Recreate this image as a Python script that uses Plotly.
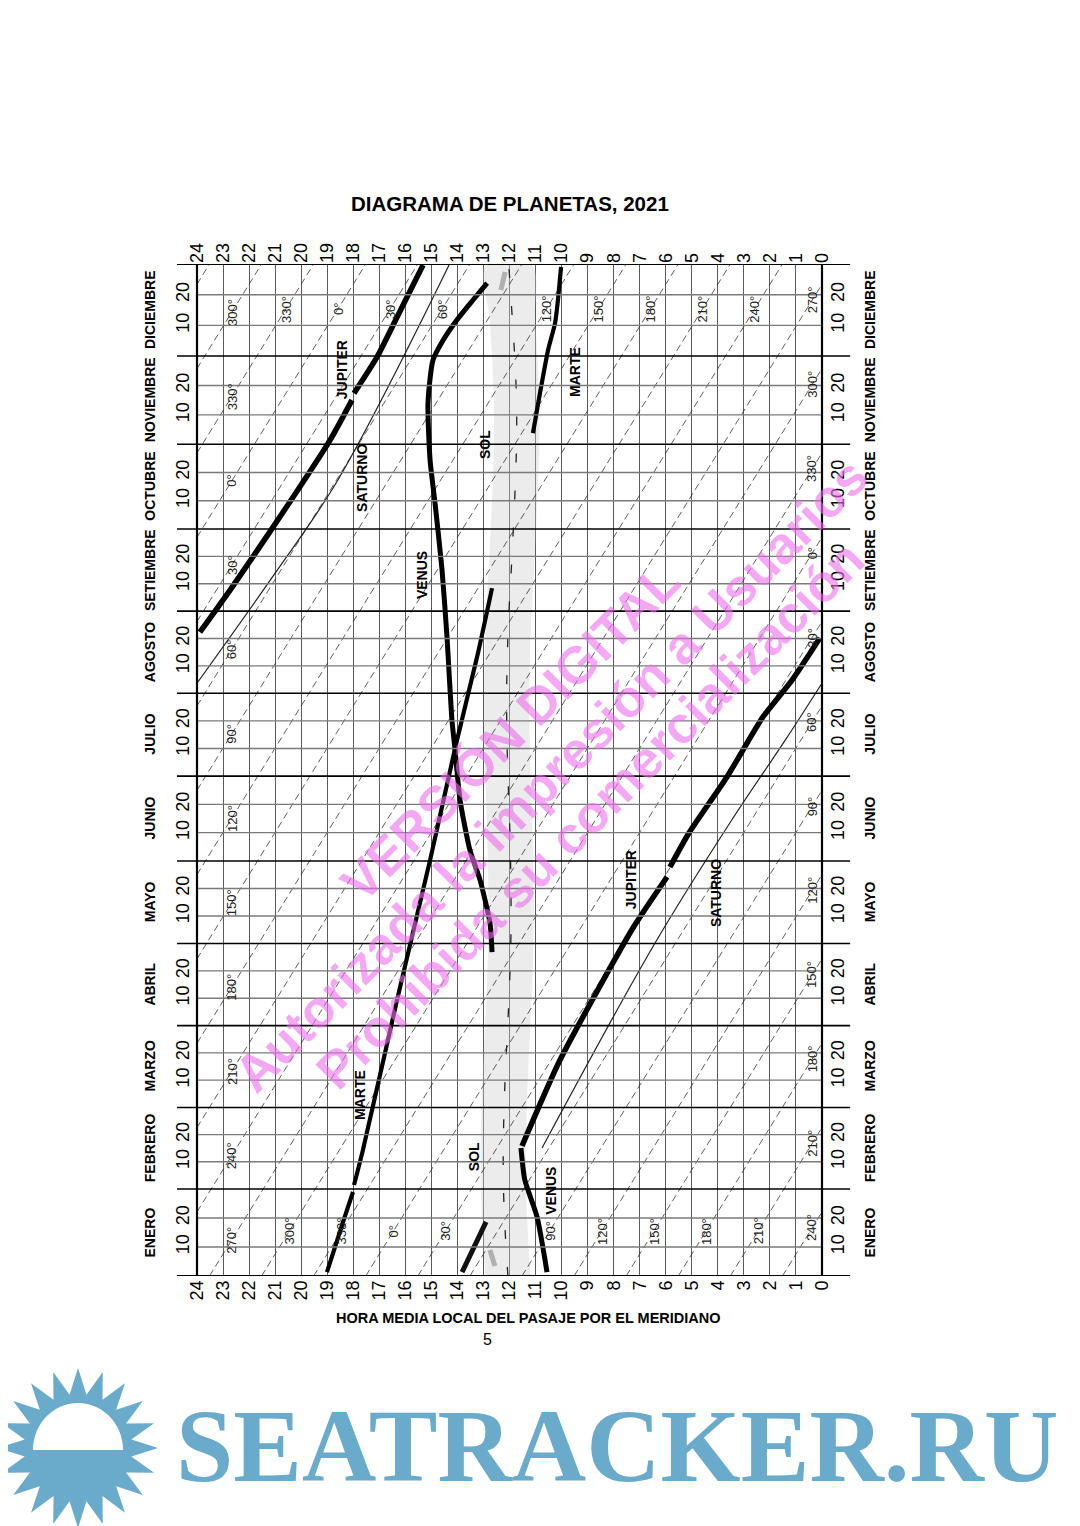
import math
import plotly.graph_objects as go

# x: hour of meridian passage (local mean time), y: position in the year in days from 1 January
HOURS = list(range(25))
MONTHS = ["ENERO", "FEBRERO", "MARZO", "ABRIL", "MAYO", "JUNIO", "JULIO",
          "AGOSTO", "SETIEMBRE", "OCTUBRE", "NOVIEMBRE", "DICIEMBRE"]
MONTH_START = [0, 31.4, 60.8, 90.3, 119.9, 149.7, 180.3, 210.2, 239.8, 269.4, 300.0, 331.8, 365.0]

# planets (None = break in the line)
JUP_EVE_H = [23.89, 22.73, 21.08, 18.89, 18.05, None, 17.97, 17.09, 16.32, 15.32]
JUP_EVE_D = [232.2, 247.4, 270.1, 301.5, 315.9, None, 318.4, 331.4, 345.8, 364.6]
JUP_MORN_H = [0.08, 1.15, 2.27, 3.65, 5.11, 5.84, None, 5.95, 7.26, 10.06, 11.52]
JUP_MORN_D = [230.1, 214.9, 201.6, 180.0, 159.8, 147.5, None, 143.9, 125.5, 77.9, 46.9]

VEN_H = [10.56, 10.94, 11.41, 11.56, None,
         12.67, 12.75, 13.13, 13.52, 13.90, 14.09, 14.21, 14.40, 14.59, 14.86,
         15.05, 15.13, 14.94, 14.55, 14.02, 13.40, 12.86]
VEN_D = [1.4, 21.3, 34.6, 46.2, None,
         116.8, 127.3, 142.8, 153.6, 171.7, 189.7, 200.5, 230.4, 254.6, 278.8,
         294.3, 314.8, 330.3, 337.5, 344.8, 352.0, 358.1]

MAR_H = [19.01, 18.39, 18.01, None, 17.97, 17.63, 16.32, 15.05, 14.06, 13.21, 12.67, None,
         11.10, 10.83, 10.52, 10.25, 10.14, 10.02]
MAR_D = [1.4, 19.5, 30.3, None, 32.8, 45.4, 99.5, 150.0, 191.5, 224.7, 248.1, None,
         304.0, 318.4, 333.9, 343.7, 352.0, 363.9]

SAT_H = [10.75, 6.41, 3.49, 1.38, 0.0, None, 24.0, 21.0, 18.59, 14.32]
SAT_D = [46.2, 120.1, 164.1, 193.7, 213.8, None, 213.8, 253.5, 287.1, 364.6]

# sun: meridian passage through the year
SUN_D = [0, 15, 31, 45, 60, 75, 90, 105, 120, 135, 150, 165, 180, 195, 210, 225,
         240, 255, 270, 285, 300, 315, 330, 345, 365]
SUN_H = [12.06, 12.16, 12.23, 12.24, 12.21, 12.15, 12.07, 12.00, 11.95, 11.94, 11.96, 12.00,
         12.06, 12.10, 12.11, 12.08, 12.02, 11.93, 11.85, 11.78, 11.73, 11.73, 11.79, 11.89, 12.03]
SUN_HALF = 0.87

# short marks near the sun band
GREY_TOP_H = [12.33, 12.17]
GREY_TOP_D = [355.6, 362.1]
GREY_BOT_H = [12.75, 12.56]
GREY_BOT_D = [9.4, 3.6]
DARK_H = [13.82, 12.90]
DARK_D = [1.4, 19.5]

# sidereal hour angle guide lines
SHA = list(range(0, 360, 30))
SHA0_HOUR = 17.52          # passage hour of SHA 0 deg on 1 January
RATE = 24 / 365            # guide lines shift 24 h per year
COL_HOURS = [22.66, 0.38]  # columns where the degree labels sit
ROW_DAYS = [16.2, 348.7]   # rows (January / December) of degree labels

LABELS = [("JUPITER", 18.43, 326.7), ("SATURNO", 17.67, 287.8), ("SOL", 12.94, 299.7),
          ("VENUS", 15.36, 252.8), ("MARTE", 9.49, 326.0), ("JUPITER", 7.33, 142.8),
          ("SATURNO", 4.07, 138.1), ("MARTE", 17.74, 65.3), ("SOL", 13.36, 42.9),
          ("VENUS", 10.41, 30.7)]

FONT = "Liberation Sans, Arial, sans-serif"

fig = go.Figure()

# sun band
fig.add_trace(go.Scatter(
    x=[h + SUN_HALF for h in SUN_H] + [h - SUN_HALF for h in SUN_H][::-1],
    y=SUN_D + SUN_D[::-1],
    fill="toself", fillcolor="rgba(205,205,205,0.38)",
    mode="lines", line=dict(width=0, shape="spline"), hoverinfo="skip",
))
fig.add_trace(go.Scatter(
    x=SUN_H, y=SUN_D, mode="lines",
    line=dict(color="#222", width=1.3, dash="9px,28px", shape="spline"),
))

# guide lines
gx, gy = [], []
for s in SHA:
    h0 = (SHA0_HOUR - s / 15) % 24
    dz = h0 / RATE
    gx += [h0, 0, None, 24, h0, None]
    gy += [0, dz, None, dz, 365, None]
fig.add_trace(go.Scatter(x=gx, y=gy, mode="lines",
                         line=dict(color="#333", width=0.8, dash="7px,4px"), hoverinfo="skip"))

# planets
fig.add_trace(go.Scatter(x=SAT_H, y=SAT_D, mode="lines",
                         line=dict(color="#222", width=1.2, shape="spline")))
fig.add_trace(go.Scatter(x=GREY_TOP_H, y=GREY_TOP_D, mode="lines", line=dict(color="#b0b0b0", width=5)))
fig.add_trace(go.Scatter(x=GREY_BOT_H, y=GREY_BOT_D, mode="lines", line=dict(color="#b0b0b0", width=5)))
fig.add_trace(go.Scatter(x=DARK_H, y=DARK_D, mode="lines", line=dict(color="#111", width=5)))
for hx, dy, w in [(JUP_EVE_H, JUP_EVE_D, 5.5), (JUP_MORN_H, JUP_MORN_D, 5.5),
                  (VEN_H, VEN_D, 5), (MAR_H, MAR_D, 4.2)]:
    fig.add_trace(go.Scatter(x=hx, y=dy, mode="lines",
                             line=dict(color="black", width=w, shape="spline", smoothing=0.6)))

# invisible trace for the top / right axes
fig.add_trace(go.Scatter(x=[None], y=[None], xaxis="x2", yaxis="y2"))

shapes = []
tick_pos, tick_txt = [], []
for i in range(12):
    s, e = MONTH_START[i], MONTH_START[i + 1]
    for k, t in ((1, "10"), (2, "20")):
        p = s + (e - s) * k / 3
        tick_pos.append(p)
        tick_txt.append(t)
        shapes.append(dict(type="line", xref="paper", yref="y", x0=0, x1=1, y0=p, y1=p,
                           line=dict(color="#7a7a7a", width=1.4), layer="above"))
for i, p in enumerate(MONTH_START):
    w = 2.2 if i in (0, 12) else 1.6
    shapes.append(dict(type="line", xref="paper", yref="y", x0=-0.032, x1=1.045, y0=p, y1=p,
                       line=dict(color="black", width=w), layer="above"))
for xp in (0, 1):
    shapes.append(dict(type="line", xref="paper", yref="paper", x0=xp, x1=xp, y0=0, y1=1,
                       line=dict(color="black", width=2.2), layer="above"))

# logo sun (pixel geometry of the page -> paper)
def to_paper(px, py):
    return (px - 197) / 625, (1276 - py) / 1012

cx, cy = 78, 1448
pts = []
for k in range(40):
    a = math.pi / 2 + k * math.pi / 20
    r = 80 if k % 2 == 0 else 54
    pts.append(to_paper(cx + r * math.cos(a), cy - r * math.sin(a)))
shapes.append(dict(type="path", xref="paper", yref="paper", layer="above",
                   path="M " + " L ".join(f"{x:.4f},{y:.4f}" for x, y in pts) + " Z",
                   fillcolor="#6aaacb", line=dict(width=0)))
dome = [to_paper(cx + 45 * math.cos(math.pi * k / 30), cy + 2 - 47 * math.sin(math.pi * k / 30))
        for k in range(31)]
shapes.append(dict(type="path", xref="paper", yref="paper", layer="above",
                   path="M " + " L ".join(f"{x:.4f},{y:.4f}" for x, y in dome) + " Z",
                   fillcolor="white", line=dict(width=0)))


def note(text, x, y, size, ref="data", angle=0, color="black", bold=False, family=FONT):
    d = dict(text=text, x=x, y=y, textangle=angle, showarrow=False,
             xanchor="center", yanchor="middle",
             font=dict(family=family, size=size, color=color, weight="bold" if bold else "normal"))
    if ref == "paper":
        d.update(xref="paper", yref="paper")
    elif ref == "month":
        d.update(xref="paper", yref="y")
    return d


ann = []
for i, m in enumerate(MONTHS):
    mid = (MONTH_START[i] + MONTH_START[i + 1]) / 2
    for xp in (-0.0752, 1.0768):
        ann.append(note(m, xp, mid, 14, ref="month", angle=-90, bold=True))

for s in SHA:
    h0 = (SHA0_HOUR - s / 15) % 24
    for hc in COL_HOURS:
        ann.append(note(f"{s}°", hc, ((h0 - hc) % 24) / RATE, 13, angle=-90, color="#222"))
    for d in ROW_DAYS:
        h = (h0 - RATE * d) % 24
        if 1.5 < h < 22 and not 11 < h < 13:
            ann.append(note(f"{s}°", h, d, 13, angle=-90, color="#222"))

for t, h, d in LABELS:
    ann.append(note(t, h, d, 14, angle=-90, bold=True))

pink = "rgba(236,110,236,0.6)"
ann += [
    note("DIAGRAMA DE PLANETAS, 2021", 0.5, 1.0593, 20.5, ref="paper", bold=True),
    note("HORA MEDIA LOCAL DEL PASAJE POR EL MERIDIANO", 0.531, -0.0415, 14.5, ref="paper", bold=True),
    note("5", 0.464, -0.0632, 16, ref="paper"),
    note("VERSIÓN DIGITAL", 0.5008, 0.5375, 52, ref="paper", angle=-45, color=pink, bold=True),
    note("Autorizada la impresión a Usuarios", 0.5664, 0.4951, 52, ref="paper", angle=-45,
         color=pink, bold=True),
    note("Prohibida su comercialización", 0.6288, 0.4555, 52, ref="paper", angle=-45,
         color=pink, bold=True),
    note("SEATRACKER.RU", 0.672, -0.168, 103, ref="paper", color="#6aaacb", bold=True,
         family="Liberation Serif, serif"),
]

axis_font = dict(family=FONT, size=18, color="black")
# the page adds an 8 px body margin, so the figure is 8 px smaller and the margins are shifted
fig.update_layout(
    width=1072, height=1518,
    margin=dict(l=189, r=258, t=256, b=250, pad=0),
    paper_bgcolor="white", plot_bgcolor="white",
    showlegend=False, hovermode=False,
    xaxis=dict(range=[24, 0], tickvals=HOURS, tickangle=-90, tickfont=axis_font,
               showgrid=True, gridcolor="#5a5a5a", gridwidth=1, zeroline=False, showline=False, ticks=""),
    xaxis2=dict(range=[24, 0], tickvals=HOURS, tickangle=-90, tickfont=axis_font, overlaying="x",
                side="top", showgrid=False, zeroline=False, showline=False, ticks=""),
    yaxis=dict(range=[0, 365], tickvals=tick_pos, ticktext=tick_txt, tickangle=-90, tickfont=axis_font,
               showgrid=False, zeroline=False, showline=False, ticks="", ticklabelstandoff=3),
    yaxis2=dict(range=[0, 365], tickvals=tick_pos, ticktext=tick_txt, tickangle=-90, tickfont=axis_font,
                overlaying="y", side="right", showgrid=False, zeroline=False, showline=False, ticks="",
                ticklabelstandoff=3),
    shapes=shapes, annotations=ann,
)

fig.write_html("out.html")
